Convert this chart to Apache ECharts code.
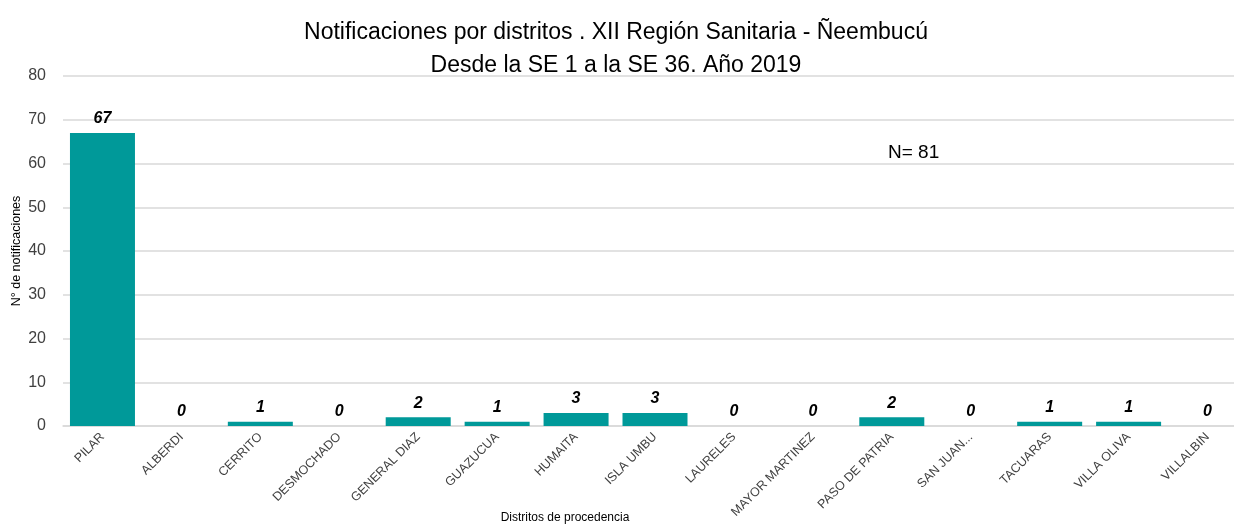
<!DOCTYPE html>
<html><head><meta charset="utf-8">
<script src="https://cdn.jsdelivr.net/npm/echarts@6/dist/echarts.min.js"></script>
<style>html,body{margin:0;padding:0;background:#fff}#c{width:1234px;height:528px}</style>
</head><body><div id="c"></div>
<script>
var categories = ['PILAR','ALBERDI','CERRITO','DESMOCHADO','GENERAL DIAZ','GUAZUCUA','HUMAITA','ISLA UMBU','LAURELES','MAYOR MARTINEZ','PASO DE PATRIA','SAN JUAN...','TACUARAS','VILLA OLIVA','VILLALBIN'];
var values = [67,0,1,0,2,1,3,3,0,0,2,0,1,1,0];
var yTicks = {min:0, max:80, interval:10};
var titleLines = ['Notificaciones por distritos . XII Región Sanitaria - Ñeembucú','Desde la SE 1 a la SE 36. Año 2019'];
var note = 'N= 81';
var xName = 'Distritos de procedencia';
var yName = 'N° de notificaciones';
var FONT = '"Liberation Sans", Arial, sans-serif';
var chart = echarts.init(document.getElementById('c'), null, {renderer:'canvas'});
chart.setOption({
  animation:false,
  title:{text:titleLines.join('\n'), left:611, top:11, textAlign:'center',
    textStyle:{fontFamily:FONT, fontSize:23, fontWeight:'normal', color:'#000', lineHeight:33}},
  graphic:[
    {type:'text', left:888, top:143, style:{text:note, font:'19px '+FONT, fill:'#000'}},
    {type:'text', x:565, y:518, style:{text:xName, font:'12px '+FONT, fill:'#000', textAlign:'center', textVerticalAlign:'middle'}},
    {type:'text', x:17, y:251, rotation:Math.PI/2, style:{text:yName, font:'12.5px '+FONT, fill:'#000', textAlign:'center', textVerticalAlign:'middle'}}
  ],
  grid:{left:63, top:76, width:1184, height:350, containLabel:false, outerBoundsMode:'none'},
  xAxis:{type:'category', data:categories,
    axisLine:{lineStyle:{color:'#d9d9d9', width:1.5}}, axisTick:{show:false},
    axisLabel:{rotate:45, interval:0, margin:9, fontFamily:FONT, fontSize:12.5, color:'#404040'}},
  yAxis:{type:'value', min:yTicks.min, max:yTicks.max, interval:yTicks.interval,
    axisLine:{show:false}, axisTick:{show:false},
    axisLabel:{margin:17, fontFamily:FONT, fontSize:16, color:'#404040'},
    splitLine:{lineStyle:{color:'#d9d9d9', width:1.5}}},
  series:[{type:'bar', data:values, barWidth:65,
    itemStyle:{color:'#009999'},
    label:{show:true, position:'top', distance:6, fontFamily:FONT, fontSize:16, fontWeight:'bold', fontStyle:'italic', color:'#000'}}]
});
</script></body></html>
